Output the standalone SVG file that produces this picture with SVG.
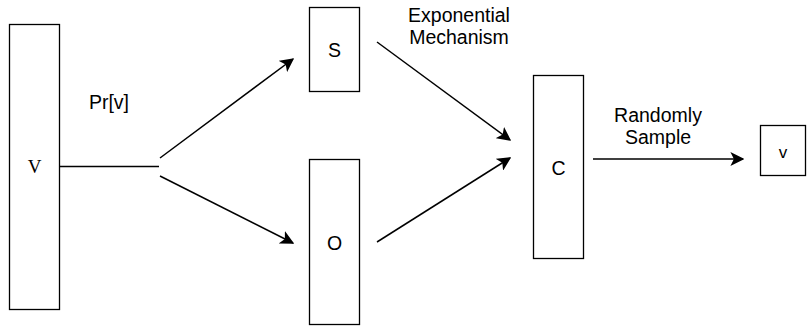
<svg xmlns="http://www.w3.org/2000/svg" width="807" height="326" viewBox="0 0 807 326">
<defs>
<style>
.box{fill:#fff;stroke:#000;stroke-width:1.3}
.t{font-family:"Liberation Sans",Arial,sans-serif;font-size:19.5px;fill:#000;text-anchor:middle}
.ts{font-family:"Liberation Serif","Times New Roman",serif;font-size:19px;fill:#000;text-anchor:middle}
.e{fill:none;stroke:#000;stroke-width:1.5}
</style>
<marker id="ah" viewBox="0 0 10 10" refX="9" refY="5" markerWidth="14" markerHeight="14" markerUnits="userSpaceOnUse" orient="auto">
<path d="M0,0 L10,5 L0,10 L2.5,5 Z" fill="#000"/>
</marker>
</defs>
<rect width="807" height="326" fill="#fff"/>
<g id="edges">
<line class="e" x1="59.5" y1="166.5" x2="159" y2="166.5"/>
<line class="e" x1="160" y1="158" x2="293" y2="59" marker-end="url(#ah)"/>
<line class="e" x1="160" y1="176" x2="293" y2="243" marker-end="url(#ah)"/>
<line class="e" x1="377" y1="42" x2="510" y2="140" marker-end="url(#ah)"/>
<line class="e" x1="377" y1="242" x2="510" y2="158" marker-end="url(#ah)"/>
<line class="e" x1="593" y1="159" x2="743" y2="159" marker-end="url(#ah)"/>
<text class="t" x="109" y="109">Pr[v]</text>
<text class="t" x="459" y="22">Exponential</text>
<text class="t" x="459" y="43.5">Mechanism</text>
<text class="t" x="658" y="122">Randomly</text>
<text class="t" x="658" y="143.5">Sample</text>
</g>
<g id="V">
<rect class="box" x="9.5" y="24.5" width="50" height="285"/>
<text class="ts" x="34.5" y="173">V</text>
</g>
<g id="S">
<rect class="box" x="309.5" y="7.5" width="50" height="84"/>
<text class="t" x="334.5" y="57">S</text>
</g>
<g id="O">
<rect class="box" x="309.5" y="159.5" width="50" height="165"/>
<text class="t" x="334.5" y="250">O</text>
</g>
<g id="C">
<rect class="box" x="533.5" y="75.5" width="50" height="183"/>
<text class="t" x="558.5" y="175">C</text>
</g>
<g id="v">
<rect class="box" x="760.5" y="125.5" width="45" height="50"/>
<text class="t" x="783" y="158" style="font-size:17px">v</text>
</g>
</svg>
